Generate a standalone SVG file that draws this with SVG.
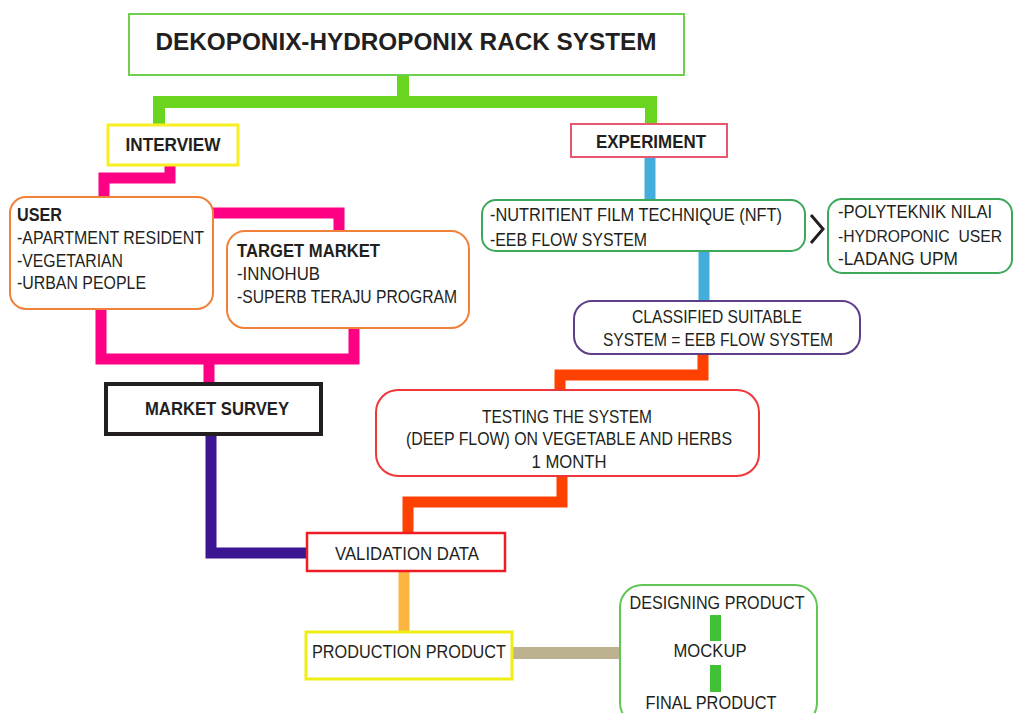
<svg xmlns="http://www.w3.org/2000/svg" width="1014" height="713" viewBox="0 0 1014 713">
<style>
.t{font-family:"Liberation Sans",Arial,sans-serif;font-size:18px;fill:#231f20}
.b{font-weight:bold}
.c{text-anchor:middle}
.box{fill:#fff}
.cn{fill:none;stroke-linejoin:miter;stroke-linecap:butt}
</style>
<rect width="1014" height="713" fill="#fff"/>
<g id="connectors" class="cn">
<path d="M159,125 V102 H651 V124 M403,75 V102" stroke="#6ad51f" stroke-width="12" class="cn"/>
<path d="M170,165 V178 H104 V198" stroke="#fe0083" stroke-width="11" class="cn"/>
<path d="M213,213 H339 V231" stroke="#fe0083" stroke-width="11" class="cn"/>
<path d="M101,309 V359 H354 V328 M209,359 V384" stroke="#fe0083" stroke-width="11" class="cn"/>
<path d="M211,435 V553 H307" stroke="#3c1593" stroke-width="11" class="cn"/>
<path d="M650,157 V200 M704,251 V301" stroke="#45addb" stroke-width="11" class="cn"/>
<path d="M703,354 V375 H560 V390" stroke="#fe4101" stroke-width="11" class="cn"/>
<path d="M562,476 V502 H408 V533" stroke="#fe4101" stroke-width="11" class="cn"/>
<path d="M404,571 V632" stroke="#fbb540" stroke-width="11" class="cn"/>
<path d="M512,653 H620" stroke="#bcb28f" stroke-width="12" class="cn"/>
<polyline points="811,215 823,229 811,243" stroke="#231f20" stroke-width="3" class="cn"/>
</g>
<g id="title">
<rect x="129" y="14" width="555" height="61" class="box" stroke="#6fcf4f" stroke-width="2"/>
<text x="406" y="50" class="t b c" style="font-size:24px" textLength="501" lengthAdjust="spacingAndGlyphs">DEKOPONIX-HYDROPONIX RACK SYSTEM</text>
</g>
<g id="interview">
<rect x="108" y="125" width="130" height="40" class="box" stroke="#f7ef1f" stroke-width="3"/>
<text x="173" y="151" class="t b c" textLength="95" lengthAdjust="spacingAndGlyphs">INTERVIEW</text>
</g>
<g id="experiment">
<rect x="571" y="124" width="156" height="33" class="box" stroke="#e9566f" stroke-width="2"/>
<text x="651" y="148" class="t b c" textLength="110" lengthAdjust="spacingAndGlyphs">EXPERIMENT</text>
</g>
<g id="user">
<rect x="10" y="197" width="203" height="112" rx="16" class="box" stroke="#f0813a" stroke-width="2"/>
<text x="17" y="221" class="t b" textLength="45" lengthAdjust="spacingAndGlyphs">USER</text>
<text x="17" y="244" class="t" textLength="187" lengthAdjust="spacingAndGlyphs">-APARTMENT RESIDENT</text>
<text x="17" y="267" class="t" textLength="106" lengthAdjust="spacingAndGlyphs">-VEGETARIAN</text>
<text x="17" y="289" class="t" textLength="129" lengthAdjust="spacingAndGlyphs">-URBAN PEOPLE</text>
</g>
<g id="target-market">
<rect x="227" y="231" width="242" height="97" rx="18" class="box" stroke="#f0813a" stroke-width="2"/>
<text x="237" y="257" class="t b" textLength="143" lengthAdjust="spacingAndGlyphs">TARGET MARKET</text>
<text x="237" y="280" class="t" textLength="83" lengthAdjust="spacingAndGlyphs">-INNOHUB</text>
<text x="237" y="303" class="t" textLength="220" lengthAdjust="spacingAndGlyphs">-SUPERB TERAJU PROGRAM</text>
</g>
<g id="market-survey">
<rect x="106" y="384" width="215" height="50" class="box" stroke="#231f20" stroke-width="4"/>
<text x="217" y="415" class="t b c" textLength="144" lengthAdjust="spacingAndGlyphs">MARKET SURVEY</text>
</g>
<g id="nft">
<rect x="482" y="200" width="323" height="51" rx="14" class="box" stroke="#3ca85a" stroke-width="2"/>
<text x="490" y="221" class="t" textLength="292" lengthAdjust="spacingAndGlyphs">-NUTRITIENT FILM TECHNIQUE (NFT)</text>
<text x="490" y="246" class="t" textLength="157" lengthAdjust="spacingAndGlyphs">-EEB FLOW SYSTEM</text>
</g>
<g id="users-list">
<rect x="828" y="199" width="184" height="74" rx="14" class="box" stroke="#3ca85a" stroke-width="2"/>
<text x="838" y="218" class="t" textLength="154" lengthAdjust="spacingAndGlyphs">-POLYTEKNIK NILAI</text>
<text x="838" y="242" class="t" style="white-space:pre;font-size:16px" textLength="164" lengthAdjust="spacingAndGlyphs">-HYDROPONIC  USER</text>
<text x="838" y="265" class="t" textLength="120" lengthAdjust="spacingAndGlyphs">-LADANG UPM</text>
</g>
<g id="classified">
<rect x="574" y="301" width="286" height="53" rx="18" class="box" stroke="#5d3e87" stroke-width="2"/>
<text x="717" y="323" class="t c" textLength="170" lengthAdjust="spacingAndGlyphs">CLASSIFIED SUITABLE</text>
<text x="718" y="346" class="t c" textLength="230" lengthAdjust="spacingAndGlyphs">SYSTEM = EEB FLOW SYSTEM</text>
</g>
<g id="testing">
<rect x="376" y="390" width="383" height="86" rx="22" class="box" stroke="#f0373c" stroke-width="2"/>
<text x="567" y="423" class="t c" textLength="170" lengthAdjust="spacingAndGlyphs">TESTING THE SYSTEM</text>
<text x="569" y="445" class="t c" textLength="326" lengthAdjust="spacingAndGlyphs">(DEEP FLOW) ON VEGETABLE AND HERBS</text>
<text x="569" y="468" class="t c" textLength="75" lengthAdjust="spacingAndGlyphs">1 MONTH</text>
</g>
<g id="validation">
<rect x="307" y="533" width="198" height="38" class="box" stroke="#ee1c24" stroke-width="2.5"/>
<text x="407" y="560" class="t c" textLength="144" lengthAdjust="spacingAndGlyphs">VALIDATION DATA</text>
</g>
<g id="production">
<rect x="306" y="632" width="206" height="47" class="box" stroke="#efee14" stroke-width="3"/>
<text x="409" y="658" class="t c" textLength="194" lengthAdjust="spacingAndGlyphs">PRODUCTION PRODUCT</text>
</g>
<g id="design">
<rect x="620" y="585" width="197" height="140" rx="22" class="box" stroke="#62c556" stroke-width="2"/>
<text x="717" y="609" class="t c" textLength="175" lengthAdjust="spacingAndGlyphs">DESIGNING PRODUCT</text>
<rect x="710" y="615" width="11" height="26" fill="#41c136"/>
<text x="710" y="657" class="t c" textLength="73" lengthAdjust="spacingAndGlyphs">MOCKUP</text>
<rect x="710" y="665" width="11" height="27" fill="#41c136"/>
<text x="711" y="709" class="t c" textLength="131" lengthAdjust="spacingAndGlyphs">FINAL PRODUCT</text>
</g>
</svg>
